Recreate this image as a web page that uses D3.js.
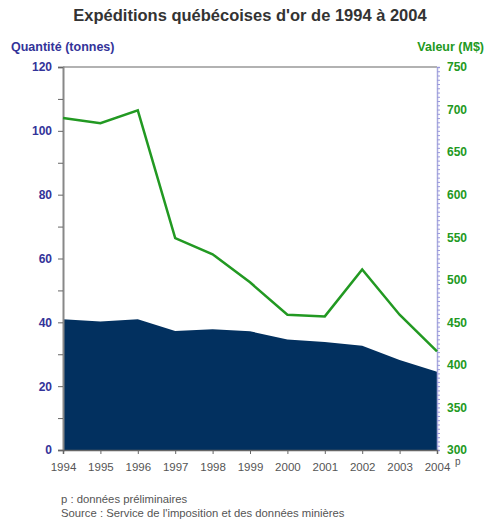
<!DOCTYPE html>
<html>
<head>
<meta charset="utf-8">
<script src="https://cdn.jsdelivr.net/npm/d3@7.9.0/dist/d3.min.js"></script>
<style>
  body { margin: 0; background: #fff; }
  svg { font-family: "Liberation Sans", Arial, sans-serif; }
</style>
</head>
<body>
<svg id="chart" width="486" height="525"></svg>
<script>
const years = [1994, 1995, 1996, 1997, 1998, 1999, 2000, 2001, 2002, 2003, 2004];
const quantite = [41, 40.3, 41, 37.3, 37.8, 37.2, 34.6, 33.8, 32.7, 28.2, 24.5];
const valeur = [690, 684, 699, 549, 530, 497, 459, 457, 512, 459, 416];
const leftTicks = [0, 20, 40, 60, 80, 100, 120];
const rightTicks = [300, 350, 400, 450, 500, 550, 600, 650, 700, 750];

const svg = d3.select('#chart');
const mLeft = 63, mRight = 437, mTop = 67, mBottom = 450;

const x = d3.scaleLinear().domain([1994, 2004]).range([mLeft, mRight]);
const yL = d3.scaleLinear().domain([0, 120]).range([mBottom, mTop]);
const yR = d3.scaleLinear().domain([300, 750]).range([mBottom, mTop]);

const blue = '#333399', green = '#229922';
const ff = '"Liberation Sans", Arial, sans-serif';

// title
svg.append('text').attr('x', 250).attr('y', 21).attr('text-anchor', 'middle')
    .attr('font-size', 16.5).attr('font-weight', 'bold').attr('fill', '#333')
    .text("Expéditions québécoises d'or de 1994 à 2004");

svg.append('text').attr('x', 11).attr('y', 51).attr('font-size', 12.5)
    .attr('font-weight', 'bold').attr('fill', blue).text('Quantité (tonnes)');
svg.append('text').attr('x', 484).attr('y', 51).attr('font-size', 12.5).attr('text-anchor', 'end')
    .attr('font-weight', 'bold').attr('fill', green).text('Valeur (M$)');

// area
const area = d3.area().x((d, i) => x(years[i])).y0(mBottom).y1(d => yL(d));
svg.append('path').datum(quantite).attr('d', area).attr('fill', '#02305f');

// top border
svg.append('line').attr('x1', mLeft).attr('x2', mRight).attr('y1', mTop).attr('y2', mTop)
    .attr('stroke', '#999').attr('stroke-width', 1.5);

// left axis
const gL = svg.append('g').attr('transform', `translate(${mLeft},0)`)
    .call(d3.axisLeft(yL).tickValues(d3.range(0, 121, 10)).tickSize(5).tickPadding(6)
        .tickFormat(d => leftTicks.includes(d) ? d : ''));
gL.select('.domain').attr('stroke', '#888').attr('stroke-width', 2);
gL.selectAll('.tick line').attr('stroke', '#666');
gL.selectAll('.tick text').attr('fill', blue).attr('font-size', 12).attr('font-weight', 'bold')
    .attr('font-family', ff);

// right axis
const gR = svg.append('g').attr('transform', `translate(${mRight},0)`)
    .call(d3.axisRight(yR).tickValues(d3.range(300, 751, 5)).tickSize(3).tickPadding(7)
        .tickFormat(d => rightTicks.includes(d) ? d : ''));
gR.select('.domain').attr('stroke', '#aaaadd').attr('stroke-width', 1.5);
gR.selectAll('.tick line').attr('stroke', '#9999dd');
gR.selectAll('.tick text').attr('fill', green).attr('font-size', 12).attr('font-weight', 'bold')
    .attr('font-family', ff);

// x axis
const gX = svg.append('g').attr('transform', `translate(0,${mBottom})`)
    .call(d3.axisBottom(x).tickValues(years).tickFormat(d3.format('d')).tickSize(4).tickPadding(9));
gX.select('.domain').attr('stroke', '#666').attr('stroke-width', 1.5);
gX.selectAll('.tick line').attr('stroke', '#666');
gX.selectAll('.tick text').attr('fill', '#555').attr('font-size', 11.5)
    .attr('font-family', ff);
svg.append('text').attr('x', 455).attr('y', 465).attr('font-size', 10).attr('fill', '#555').text('p');

// line
const line = d3.line().x((d, i) => x(years[i])).y(d => yR(d));
svg.append('path').datum(valeur).attr('d', line).attr('fill', 'none')
    .attr('stroke', green).attr('stroke-width', 2.5).attr('stroke-linejoin', 'miter');

// notes
svg.append('text').attr('x', 61).attr('y', 503).attr('font-size', 11.3).attr('fill', '#555')
    .text('p : données préliminaires');
svg.append('text').attr('x', 61).attr('y', 517).attr('font-size', 11.3).attr('fill', '#555')
    .text("Source : Service de l'imposition et des données minières");
</script>
</body>
</html>
